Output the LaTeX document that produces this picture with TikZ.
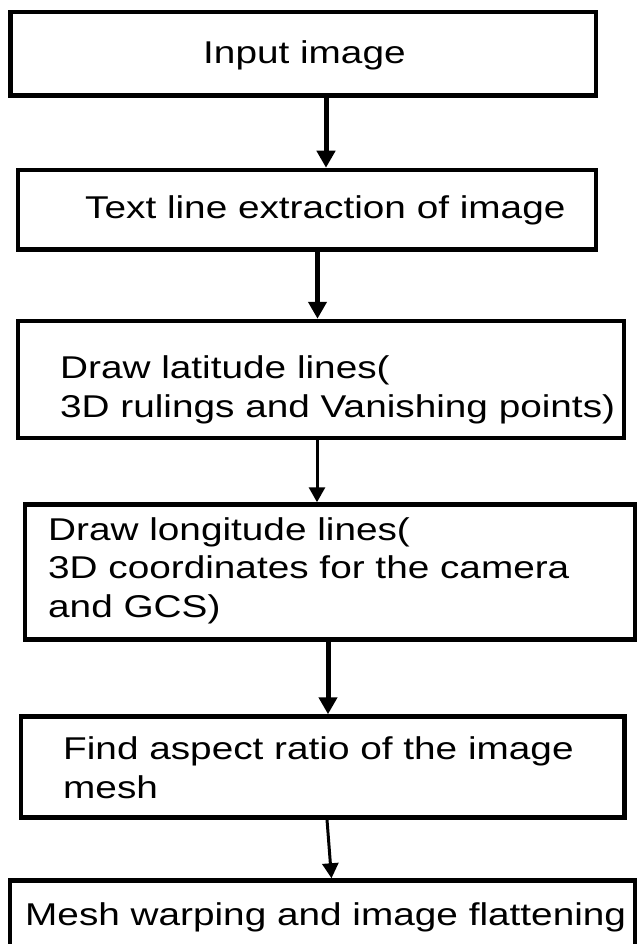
\documentclass[tikz,border=0pt]{standalone}
\usepackage{fontspec}
\setmainfont{Liberation Sans}[FakeStretch=1.23]
\usetikzlibrary{arrows.meta}
\begin{document}
\begin{tikzpicture}[x=1pt,y=-1pt,
  box/.style={draw=black, line width=4.5pt, rectangle, inner sep=0pt},
  txt/.style={font=\fontsize{31.5}{38.5}\selectfont, inner sep=0pt, align=left, anchor=base west, text=black},
  arrthick/.style={-{Triangle[length=17pt,width=18pt]}, line width=5pt},
  arrthin/.style={-{Triangle[length=15pt,width=16pt]}, line width=3pt}]
\useasboundingbox (0,0) rectangle (638,944);
% boxes
\node[box, minimum width=585.5pt, minimum height=83.5pt] (b1) at (303.25,53.75) {};
\node[box, minimum width=578pt, minimum height=79.5pt] (b2) at (307,209.75) {};
\node[box, minimum width=606pt, minimum height=117pt] (b3) at (321,379.5) {};
\node[box, minimum width=610pt, minimum height=135pt] (b4) at (330,572) {};
\node[box, minimum width=603.5pt, minimum height=101pt] (b5) at (322.75,767) {};
\node[box, minimum width=625pt, minimum height=79.5pt] (b6) at (322.5,920.25) {};
% texts (base anchor = baseline of last line)
\node[txt] (t1) at (203,64) {Input image};
\node[txt] (t2) at (85,218) {Text line extraction of image};
\node[txt] (t3) at (60,417) {Draw latitude lines(\\3D rulings and Vanishing points)};
\node[txt] (t4) at (48,617) {Draw longitude lines(\\3D coordinates for the camera\\and GCS)};
\node[txt] (t5) at (63,798) {Find aspect ratio of the image\\mesh};
\node[txt] (t6) at (25,925) {Mesh warping and image flattening};
% arrow columns
\coordinate (c1) at (326,0);
\coordinate (c2) at (317.5,0);
\coordinate (c3) at (317,0);
\coordinate (c4) at (328,0);
\coordinate (c5a) at (327,0);
\coordinate (c5b) at (331.5,0);
\draw[arrthick] (b1.south -| c1) -- (b2.north -| c1);
\draw[arrthick] (b2.south -| c2) -- (b3.north -| c2);
\draw[arrthin] (b3.south -| c3) -- (b4.north -| c3);
\draw[arrthick] (b4.south -| c4) -- (b5.north -| c4);
\draw[arrthin] (b5.south -| c5a) -- (b6.north -| c5b);
\end{tikzpicture}
\end{document}
